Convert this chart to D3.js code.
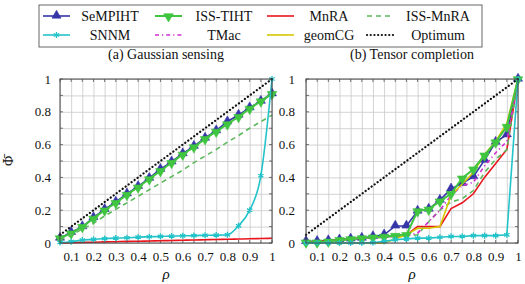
<!DOCTYPE html>
<meta charset="utf-8">
<style>
body { margin: 0; background: #fff; }
svg text { font-family: "Liberation Serif", "DejaVu Serif", serif; fill: #111; }
.tick text { font-size: 13px; }
.grid line { stroke: #c8c8c8; stroke-width: 0.8; }
.grid path { display: none; }
</style>
<body>
<script src="https://cdnjs.cloudflare.com/ajax/libs/d3/7.8.5/d3.min.js"></script>
<script>

// sampling ratio rho
var rho = [0.05, 0.1, 0.15, 0.2, 0.25, 0.3, 0.35, 0.4, 0.45, 0.5,
           0.55, 0.6, 0.65, 0.7, 0.75, 0.8, 0.85, 0.9, 0.95, 1];

var xTicks = [0.1, 0.2, 0.3, 0.4, 0.5, 0.6, 0.7, 0.8, 0.9, 1];
var xGrid = [0.05, 0.1, 0.15, 0.2, 0.25, 0.3, 0.35, 0.4, 0.45, 0.5,
             0.55, 0.6, 0.65, 0.7, 0.75, 0.8, 0.85, 0.9, 0.95, 1];
var yTicks = [0, 0.2, 0.4, 0.6, 0.8, 1];
var yGrid = [0, 0.1, 0.2, 0.3, 0.4, 0.5, 0.6, 0.7, 0.8, 0.9, 1];

var titles = ["(a) Gaussian sensing", "(b) Tensor completion"];

// (a) Gaussian sensing
var gsSeMPIHT = [0.03, 0.065, 0.10, 0.155, 0.205, 0.25, 0.30, 0.345, 0.395, 0.45,
                 0.495, 0.545, 0.59, 0.64, 0.685, 0.74, 0.78, 0.825, 0.865, 0.91];
var gsISSTIHT = [0.03, 0.06, 0.10, 0.15, 0.20, 0.245, 0.295, 0.34, 0.39, 0.44,
                 0.49, 0.54, 0.585, 0.635, 0.68, 0.725, 0.77, 0.82, 0.865, 0.91];
var gsMnRA    = [0.0, 0.002, 0.004, 0.005, 0.007, 0.008, 0.01, 0.011, 0.012, 0.014,
                 0.015, 0.017, 0.018, 0.02, 0.021, 0.023, 0.024, 0.026, 0.027, 0.029];
var gsISSMnRA = [0.02, 0.05, 0.085, 0.12, 0.165, 0.205, 0.245, 0.285, 0.325, 0.365,
                 0.405, 0.445, 0.49, 0.53, 0.57, 0.615, 0.655, 0.70, 0.74, 0.78];
var gsSNNM    = [0.003, 0.008, 0.018, 0.022, 0.027, 0.03, 0.032, 0.036, 0.038, 0.04,
                 0.042, 0.044, 0.045, 0.047, 0.048, 0.05, 0.105, 0.2, 0.41, 1.0];
var gsOptimum = [0.05, 0.1, 0.15, 0.2, 0.25, 0.3, 0.35, 0.4, 0.45, 0.5,
                 0.55, 0.6, 0.65, 0.7, 0.75, 0.8, 0.85, 0.9, 0.95, 1];

// (b) Tensor completion
var tcSeMPIHT = [0.01, 0.01, 0.015, 0.02, 0.025, 0.03, 0.04, 0.05, 0.104, 0.104,
                 0.195, 0.207, 0.262, 0.33, 0.364, 0.405, 0.505, 0.615, 0.66, 1.0];
var tcISSTIHT = [0.005, 0.005, 0.01, 0.02, 0.025, 0.03, 0.035, 0.04, 0.045, 0.05,
                 0.195, 0.205, 0.255, 0.30, 0.395, 0.45, 0.535, 0.615, 0.71, 1.0];
var tcMnRA    = [0.005, 0.01, 0.015, 0.02, 0.025, 0.03, 0.035, 0.04, 0.045, 0.05,
                 0.10, 0.10, 0.10, 0.21, 0.245, 0.30, 0.40, 0.485, 0.57, 1.0];
var tcISSMnRA = [0.005, 0.005, 0.01, 0.015, 0.02, 0.025, 0.03, 0.035, 0.04, 0.045,
                 0.05, 0.13, 0.20, 0.25, 0.27, 0.32, 0.43, 0.51, 0.57, 1.0];
var tcSNNM    = [0.0, 0.0, 0.0, 0.0, 0.0, 0.0, 0.002, 0.01, 0.02, 0.025,
                 0.03, 0.03, 0.035, 0.04, 0.04, 0.045, 0.045, 0.045, 0.05, 1.0];
var tcTMac    = [0.01, 0.01, 0.015, 0.02, 0.025, 0.03, 0.03, 0.035, 0.04, 0.045,
                 0.06, 0.13, 0.20, 0.29, 0.35, 0.37, 0.47, 0.55, 0.62, 1.0];
var tcGeomCG  = [0.0, 0.0, 0.0, 0.0, 0.0, 0.0, 0.0, 0.0, 0.025, 0.05,
                 0.09, 0.09, 0.10, 0.29, 0.36, 0.43, 0.54, 0.62, 0.73, 1.0];
var tcOptimum = [0.05, 0.1, 0.15, 0.2, 0.25, 0.3, 0.35, 0.4, 0.45, 0.5,
                 0.55, 0.6, 0.65, 0.7, 0.75, 0.8, 0.85, 0.9, 0.95, 1];

var styles = {
  "SeMPIHT":  {color: "#3535a8", width: 1.6, dash: null, marker: "up"},
  "ISS-TIHT": {color: "#3fc53f", width: 2, dash: null, marker: "down"},
  "MnRA":     {color: "#e8161c", width: 1.6, dash: null, marker: null},
  "ISS-MnRA": {color: "#5db85d", width: 1.6, dash: "5,4", marker: null},
  "SNNM":     {color: "#22c3c9", width: 1.6, dash: null, marker: "x"},
  "TMac":     {color: "#d12ed1", width: 1.6, dash: "4,3,1.2,3", marker: null},
  "geomCG":   {color: "#d6c800", width: 1.6, dash: null, marker: null},
  "Optimum":  {color: "#111", width: 2.2, dash: "0.1,3.6", marker: null}
};

var panels = [
  {x0: 60, x1: 272, title: titles[0], series: [
    ["SeMPIHT", gsSeMPIHT], ["ISS-TIHT", gsISSTIHT], ["MnRA", gsMnRA], ["ISS-MnRA", gsISSMnRA],
    ["SNNM", gsSNNM], ["Optimum", gsOptimum]]},
  {x0: 306, x1: 518, title: titles[1], series: [
    ["SeMPIHT", tcSeMPIHT], ["MnRA", tcMnRA], ["ISS-MnRA", tcISSMnRA], ["TMac", tcTMac],
    ["geomCG", tcGeomCG], ["ISS-TIHT", tcISSTIHT], ["SNNM", tcSNNM], ["Optimum", tcOptimum]]}
];

var plotTop = 79, plotBottom = 243;
var serif = "'Liberation Serif', 'DejaVu Serif', serif";

var svg = d3.select("body").append("svg")
    .attr("width", 525)
    .attr("height", 284)
    .attr("font-family", serif);

function drawMarker(g, type, color, cx, cy) {
  if (type == "up") {
    g.append("path").attr("d", d3.symbol().type(d3.symbolTriangle).size(36)())
      .attr("transform", "translate(" + cx + "," + (cy - 0.5) + ")")
      .attr("fill", color).attr("stroke", color).attr("stroke-width", 0.6);
  } else if (type == "down") {
    g.append("path").attr("d", d3.symbol().type(d3.symbolTriangle).size(40)())
      .attr("transform", "translate(" + cx + "," + (cy + 0.5) + ") rotate(180)")
      .attr("fill", color).attr("stroke", color).attr("stroke-width", 0.6);
  } else if (type == "x") {
    g.append("path").attr("d", d3.symbol().type(d3.symbolAsterisk).size(26)())
      .attr("transform", "translate(" + cx + "," + cy + ")")
      .attr("fill", "none").attr("stroke", color).attr("stroke-width", 1.3);
  }
}

panels.forEach(function(p, pi) {
  var x = d3.scaleLinear().domain([0.05, 1]).range([p.x0, p.x1]);
  var y = d3.scaleLinear().domain([0, 1]).range([plotBottom, plotTop]);
  var g = svg.append("g");

  // grid
  g.append("g").attr("class", "grid")
    .attr("transform", "translate(0," + plotBottom + ")")
    .call(d3.axisBottom(x).tickValues(xGrid).tickSize(plotTop - plotBottom).tickFormat(""));
  g.append("g").attr("class", "grid")
    .attr("transform", "translate(" + p.x0 + ",0)")
    .call(d3.axisLeft(y).tickValues(yGrid).tickSize(p.x0 - p.x1).tickFormat(""));

  // inward tick marks
  var tk = g.append("g").attr("stroke", "#555").attr("stroke-width", 0.8);
  xGrid.forEach(function(v) {
    tk.append("line").attr("x1", x(v)).attr("x2", x(v)).attr("y1", plotBottom).attr("y2", plotBottom - 3);
    tk.append("line").attr("x1", x(v)).attr("x2", x(v)).attr("y1", plotTop).attr("y2", plotTop + 3);
  });
  yGrid.forEach(function(v) {
    tk.append("line").attr("x1", p.x0).attr("x2", p.x0 + 3).attr("y1", y(v)).attr("y2", y(v));
    tk.append("line").attr("x1", p.x1).attr("x2", p.x1 - 3).attr("y1", y(v)).attr("y2", y(v));
  });

  // tick labels
  var xa = g.append("g").attr("transform", "translate(0," + plotBottom + ")")
    .call(d3.axisBottom(x).tickValues(xTicks).tickSize(0).tickPadding(9).tickFormat(d3.format("~g")));
  xa.select(".domain").remove();
  var ya = g.append("g").attr("transform", "translate(" + p.x0 + ",0)")
    .call(d3.axisLeft(y).tickValues(yTicks).tickSize(0).tickPadding(pi == 0 ? 9 : 11).tickFormat(d3.format("~g")));
  ya.select(".domain").remove();
  xa.attr("font-family", serif).attr("font-size", 13);
  ya.attr("font-family", serif).attr("font-size", 13);
  g.selectAll(".tick text").attr("fill", "#111");

  // series
  var line = d3.line()
    .x(function(d, i) { return x(rho[i]); })
    .y(function(d) { return y(d); })
    .curve(pi == 0 ? d3.curveMonotoneX : d3.curveLinear);

  var plot = g.append("g");
  p.series.forEach(function(s) {
    var st = styles[s[0]];
    plot.append("path").datum(s[1])
      .attr("d", line)
      .attr("fill", "none")
      .attr("stroke", st.color)
      .attr("stroke-width", st.width)
      .attr("stroke-linecap", s[0] == "Optimum" ? "round" : "butt")
      .attr("stroke-dasharray", st.dash);
    if (st.marker) {
      s[1].forEach(function(v, i) { drawMarker(plot, st.marker, st.color, x(rho[i]), y(v)); });
    }
  });

  // frame
  g.append("rect").attr("x", p.x0).attr("y", plotTop)
    .attr("width", p.x1 - p.x0).attr("height", plotBottom - plotTop)
    .attr("fill", "none").attr("stroke", "#444").attr("stroke-width", 1);

  // titles and labels
  var cx = (p.x0 + p.x1) / 2;
  svg.append("text").attr("x", cx).attr("y", 59).attr("text-anchor", "middle")
    .style("font-size", "14px").text(p.title);
  svg.append("text").attr("x", cx).attr("y", 279).attr("text-anchor", "middle")
    .style("font-size", "15px").style("font-style", "italic").text("ρ");
});

svg.append("text").attr("transform", "translate(13,161) rotate(-90)")
  .attr("text-anchor", "middle").style("font-size", "14px").text("Φ\u0304");

// legend
var legendNames = [["SeMPIHT", "ISS-TIHT", "MnRA", "ISS-MnRA"],
                   ["SNNM", "TMac", "geomCG", "Optimum"]];
var legX = [43, 155, 267, 367];
var legText = [110, 224, 329, 438];
var legY = [16, 35];

var leg = svg.append("g");
leg.append("rect").attr("x", 39).attr("y", 5).attr("width", 443).attr("height", 42)
  .attr("fill", "#fff").attr("stroke", "#666").attr("stroke-width", 1);

legendNames.forEach(function(row, r) {
  row.forEach(function(name, c) {
    var st = styles[name];
    var ly = legY[r];
    leg.append("line").attr("x1", legX[c]).attr("x2", legX[c] + 27)
      .attr("y1", ly).attr("y2", ly)
      .attr("stroke", st.color).attr("stroke-width", st.width)
      .attr("stroke-linecap", name == "Optimum" ? "round" : "butt")
      .attr("stroke-dasharray", st.dash);
    if (st.marker) drawMarker(leg, st.marker, st.color, legX[c] + 13.5, ly);
    leg.append("text").attr("x", legText[c]).attr("y", ly + 5)
      .attr("text-anchor", "middle").style("font-size", "14px").text(name);
  });
});

</script>
</body>
